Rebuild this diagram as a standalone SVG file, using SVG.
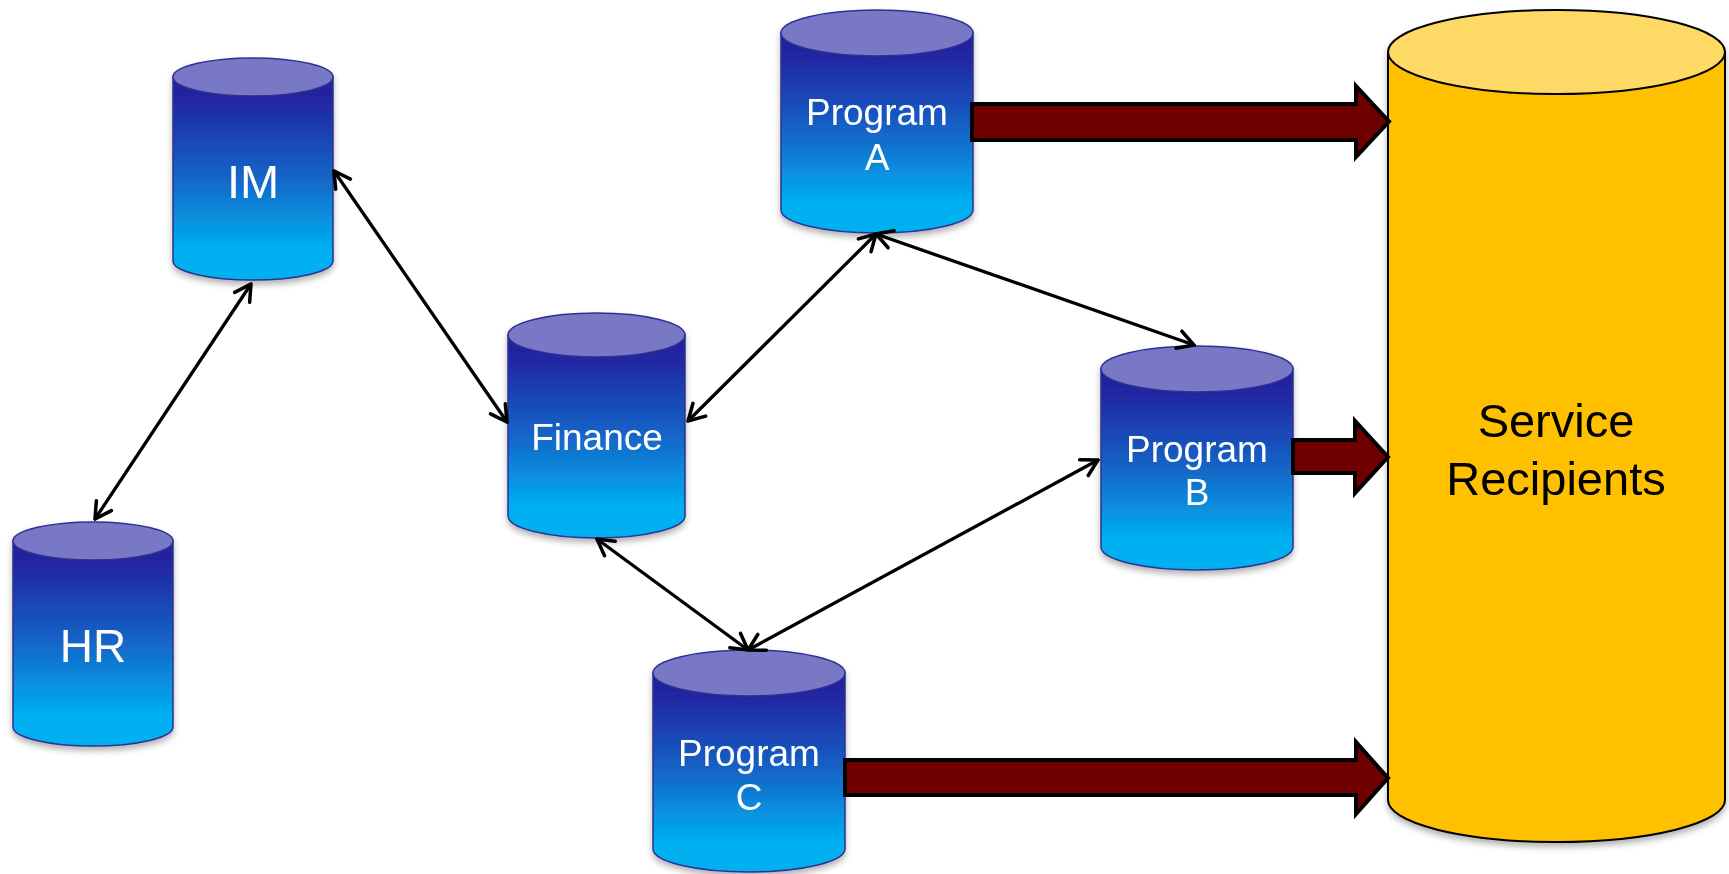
<svg xmlns="http://www.w3.org/2000/svg" width="1729" height="874" viewBox="0 0 1729 874">
<defs>
<linearGradient id="blue" x1="0" y1="0" x2="0" y2="1">
<stop offset="0" stop-color="#20209C"/>
<stop offset="0.12" stop-color="#2126A2"/>
<stop offset="0.5" stop-color="#1466C8"/>
<stop offset="0.85" stop-color="#00B0F0"/>
<stop offset="1" stop-color="#00B0F0"/>
</linearGradient>
<filter id="sh" x="-10%" y="-10%" width="120%" height="125%">
<feDropShadow dx="0" dy="4" stdDeviation="3" flood-color="#000" flood-opacity="0.3"/>
</filter>
<marker id="ah" viewBox="-19 -12 21 24" refX="0" refY="0" markerWidth="21" markerHeight="24" markerUnits="userSpaceOnUse" orient="auto-start-reverse">
<path d="M-16,-9 L0,0 L-16,9" fill="none" stroke="#000" stroke-width="3.5" stroke-linecap="round" stroke-linejoin="miter"/>
</marker>
</defs>
<style>
.body{fill:url(#blue);stroke:#2E3192;stroke-width:1.5}
.top{fill:#7878C6;stroke:#2E3192;stroke-width:1.5}
.lbl{font-family:"Liberation Sans",Arial,sans-serif;fill:#fff;text-anchor:middle}
.conn{fill:none;stroke:#000;stroke-width:3.3;marker-start:url(#ah);marker-end:url(#ah)}
.fat{fill:#700000;stroke:#000;stroke-width:4;stroke-linejoin:miter}
.ybody{fill:#FFC000;stroke:#000;stroke-width:2}
.ytop{fill:#FFD966;stroke:#000;stroke-width:2}
</style>

<g id="service-recipients" filter="url(#sh)">
<path class="ybody" d="M1388,52 L1388,800 A168.5,42 0 0 0 1725,800 L1725,52 Z"/>
<ellipse class="ytop" cx="1556.5" cy="52" rx="168.5" ry="42"/>
<text x="1556" y="437" font-family="Liberation Sans, Arial, sans-serif" font-size="47" fill="#000" text-anchor="middle">Service</text>
<text x="1556" y="495" font-family="Liberation Sans, Arial, sans-serif" font-size="47" fill="#000" text-anchor="middle">Recipients</text>
</g>

<g id="im" filter="url(#sh)">
<path class="body" d="M173,77 L173,261 A80,19 0 0 0 333,261 L333,77 Z"/>
<ellipse class="top" cx="253" cy="77" rx="80" ry="19"/>
<text class="lbl" x="253" y="198" font-size="47">IM</text>
</g>

<g id="hr" filter="url(#sh)">
<path class="body" d="M13,541 L13,727 A80,19 0 0 0 173,727 L173,541 Z"/>
<ellipse class="top" cx="93" cy="541" rx="80" ry="19"/>
<text class="lbl" x="93" y="662" font-size="46">HR</text>
</g>

<g id="finance" filter="url(#sh)">
<path class="body" d="M508,335 L508,516 A88.5,22 0 0 0 685,516 L685,335 Z"/>
<ellipse class="top" cx="596.5" cy="335" rx="88.5" ry="22"/>
<text class="lbl" x="597" y="450" font-size="37">Finance</text>
</g>

<g id="program-a" filter="url(#sh)">
<path class="body" d="M781,33 L781,210 A96,23 0 0 0 973,210 L973,33 Z"/>
<ellipse class="top" cx="877" cy="33" rx="96" ry="23"/>
<text class="lbl" x="877" y="125" font-size="37">Program</text>
<text class="lbl" x="877" y="170" font-size="37">A</text>
</g>

<g id="program-b" filter="url(#sh)">
<path class="body" d="M1101,369 L1101,547 A96,23 0 0 0 1293,547 L1293,369 Z"/>
<ellipse class="top" cx="1197" cy="369" rx="96" ry="23"/>
<text class="lbl" x="1197" y="462" font-size="37">Program</text>
<text class="lbl" x="1197" y="505" font-size="37">B</text>
</g>

<g id="program-c" filter="url(#sh)">
<path class="body" d="M653,673 L653,849 A96,23 0 0 0 845,849 L845,673 Z"/>
<ellipse class="top" cx="749" cy="673" rx="96" ry="23"/>
<text class="lbl" x="749" y="766" font-size="37">Program</text>
<text class="lbl" x="749" y="810" font-size="37">C</text>
</g>

<g id="connectors">
<line class="conn" x1="334" y1="171" x2="507" y2="422"/>
<line class="conn" x1="251" y1="284" x2="95" y2="519"/>
<line class="conn" x1="688" y1="421" x2="876" y2="234"/>
<line class="conn" x1="876" y1="234" x2="1194" y2="345"/>
<line class="conn" x1="597" y1="539" x2="748" y2="650"/>
<line class="conn" x1="748" y1="650" x2="1098" y2="460"/>
<path class="fat" d="M972,104 L1356,104 L1356,86 L1389,121.5 L1356,157 L1356,140 L972,140 Z"/>
<path class="fat" d="M1293,440 L1355,440 L1355,421 L1388,457 L1355,493 L1355,473 L1293,473 Z"/>
<path class="fat" d="M845,760 L1356,760 L1356,742 L1388,778 L1356,814 L1356,795 L845,795 Z"/>
</g>
</svg>
